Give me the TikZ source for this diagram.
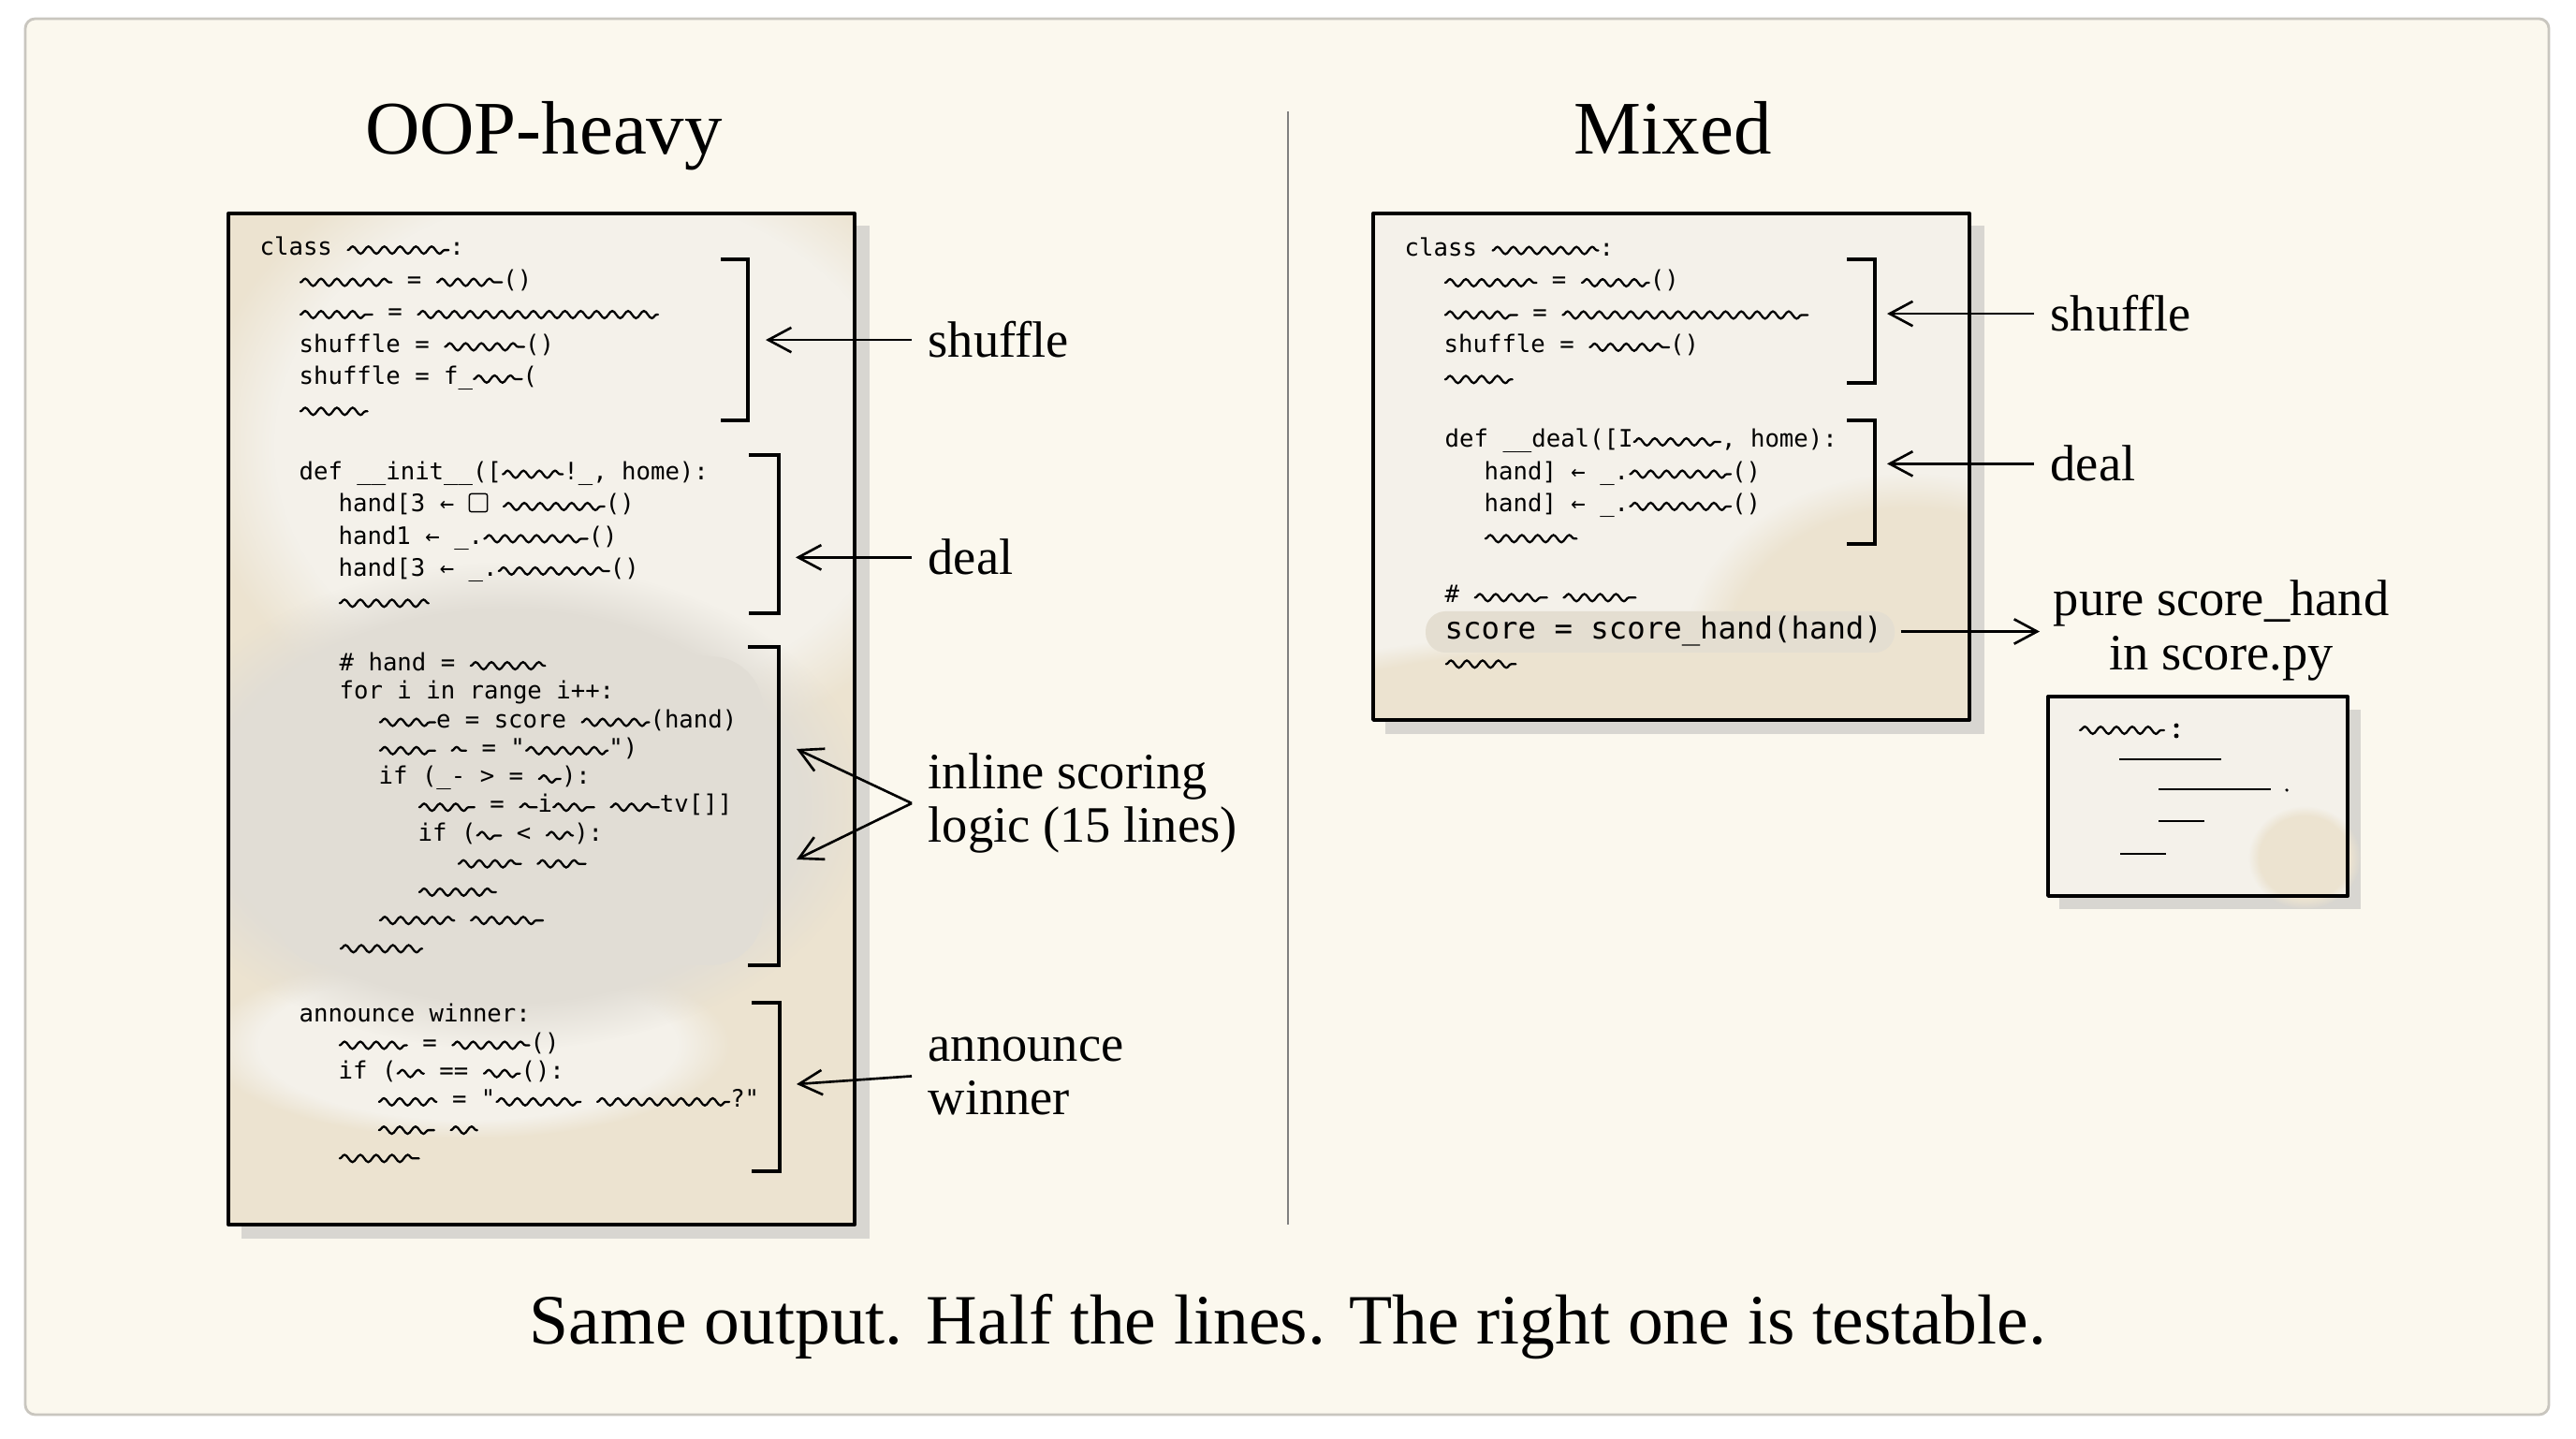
\documentclass[tikz,border=0pt]{standalone}
\usepackage{fontspec}
\setmainfont{Liberation Serif}
\newfontfamily\codefont{DejaVu Sans Mono}
\usetikzlibrary{arrows.meta,decorations.pathmorphing,fadings}
\definecolor{paper}{HTML}{FBF8EE}
\definecolor{paperedge}{HTML}{C9C6BF}
\definecolor{shadowgray}{HTML}{D8D6D1}
\definecolor{sheetbeige}{HTML}{ECE3D0}
\definecolor{sheetlight}{HTML}{F4F1EA}
\definecolor{washgray}{HTML}{E1DDD5}
\definecolor{hilite}{HTML}{E4DED1}
\tikzset{
  sheet/.style={draw=black, line width=1.1pt, line join=round},
  codeblock/.style={anchor=base west, inner sep=0pt, align=left, font=\codefont\fontsize{7.3}{9.8}\selectfont},
  tightblock/.style={codeblock, font=\codefont\fontsize{7.3}{8.6}\selectfont},
  squig/.style={line width=0.65pt, line cap=round, decorate, decoration={snake, amplitude=1.1pt, segment length=4.8pt}},
  bracket/.style={line width=0.9pt, line join=miter},
  callout/.style={line width=0.75pt, -{Straight Barb[length=7pt,width=7.5pt]}},
  lbl/.style={anchor=base west, inner sep=0pt, align=left, font=\fontsize{15.5}{16.5}\selectfont},
  divider/.style={draw=black!50, line width=0.65pt},
  blob/.style={path fading=circle with fuzzy edge 20 percent}
}
% squiggle placeholder, length in em
\newcommand\sq[1]{\tikz[baseline=0pt]\draw[squig](0,0.22em)--(#1em,0.22em);}
\newcommand\tb{\hspace*{0.42cm}}
\newcommand\boxglyph{\tikz[baseline=0pt]\draw[line width=0.4pt,rounded corners=0.6pt](0,0)rectangle(0.75em,0.75em);}

\begin{document}
\begin{tikzpicture}
    \useasboundingbox (0,0) rectangle (27.52,15.36);
    \fill[white] (0,0) rectangle (27.52,15.36);
    % paper
    \path[draw=paperedge, line width=0.8pt, fill=paper, rounded corners=3pt] (0.27,0.25) rectangle (27.23,15.16);
    % shadows
    \fill[shadowgray] (2.58,2.13) rectangle (9.29,12.95);
    \fill[shadowgray] (14.80,7.52) rectangle (21.20,12.95);
    \fill[shadowgray] (22.00,5.65) rectangle (25.22,7.78);
    % left sheet washes
    \begin{scope}
        \clip (2.44,2.28) rectangle (9.13,13.08);
        \fill[sheetbeige] (2.44,2.28) rectangle (9.13,13.08);
        \fill[sheetlight, blob] (6.3,10.6) ellipse (4.2 and 3.4);
        \fill[sheetlight, blob] (5.0,4.2) ellipse (2.8 and 1.0);
        \fill[washgray, blob] (5.4,6.75) ellipse (3.9 and 2.6);
        \fill[washgray, rounded corners=16pt] (2.95,5.05) rectangle (8.15,8.35);
    \end{scope}
    \draw[sheet] (2.44,2.28) rectangle (9.13,13.08);
    % right sheet washes
    \begin{scope}
        \clip (14.67,7.67) rectangle (21.04,13.08);
        \fill[sheetlight] (14.67,7.67) rectangle (21.04,13.08);
        \fill[sheetbeige, blob] (20.4,8.4) ellipse (2.4 and 1.9);
        \fill[sheetbeige, blob] (17.2,7.7) ellipse (4.2 and 0.9);
    \end{scope}
    \draw[sheet] (14.67,7.67) rectangle (21.04,13.08);
    % score.py sheet
    \fill[sheetlight] (21.88,5.79) rectangle (25.08,7.92);
    \fill[sheetbeige, blob] (24.62,6.2) ellipse (0.6 and 0.55);
    \draw[sheet] (21.88,5.79) rectangle (25.08,7.92);
    % titles
    \node[anchor=base, font=\fontsize{23}{27}\selectfont] (ttlL) at (5.81,13.71) {OOP-heavy};
    \node[anchor=base, font=\fontsize{23}{27}\selectfont] (ttlR) at (17.87,13.71) {Mixed};
    \draw[divider] (13.76,14.17) -- (13.76,2.28);
    % left code (base = last line)
    \node[codeblock] (oopA) at (2.77,10.91) {class \sq{4.2}:\\
        \tb\sq{3.8} = \sq{2.7}()\\
        \tb\sq{3} = \sq{10}\\
        \tb shuffle = \sq{3.3}()\\
        \tb shuffle = f\_\sq{2}(\\
        \tb\sq{2.8}};
    \node[codeblock] (oopB) at (3.19,8.86) {def \_\_init\_\_([\sq{2.5}!\_, home):\\
        \tb hand[3 ← \boxglyph\ \sq{4.2}()\\
        \tb hand1 ← \_.\sq{4.3}()\\
        \tb hand[3 ← \_.\sq{4.6}()\\
        \tb\sq{3.7}};
    \node[tightblock] (oopC) at (3.62,5.17) {\# hand = \sq{3.1}\\
        for i in range i++:\\
        \tb\sq{2.3}e = score \sq{2.8}(hand)\\
        \tb\sq{2.3} \sq{0.6} = "\sq{3.4}")\\
        \tb if (\_- > = \sq{0.9}):\\
        \tb\tb\sq{2.3} = \sq{0.7}i\sq{1.7} \sq{2}tv[]]\\
        \tb\tb if (\sq{1} < \sq{1.1}):\\
        \tb\tb\tb\sq{2.6} \sq{2}\\
        \tb\tb\sq{3.2}\\
        \tb\sq{3.1} \sq{3}\\
        \sq{3.4}};
    \node[tightblock] (oopD) at (3.19,2.93) {announce winner:\\
        \tb\sq{2.8} = \sq{3.2}()\\
        \tb if (\sq{1.1} == \sq{1.5}():\\
        \tb\tb\sq{2.4} = "\sq{3.5} \sq{5.5}?"\\
        \tb\tb\sq{2.3} \sq{1.1}\\
        \tb\sq{3.3}};
    % right code
    \node[codeblock] (mixA) at (15.00,11.25) {class \sq{4.4}:\\
        \tb\sq{3.8} = \sq{2.8}()\\
        \tb\sq{3} = \sq{10.2}\\
        \tb shuffle = \sq{3.3}()\\
        \tb\sq{2.8}};
    \node[codeblock] (mixB) at (15.43,9.55) {def \_\_deal([I\sq{3.6}, home):\\
        \tb hand] ← \_.\sq{4.2}()\\
        \tb hand] ← \_.\sq{4.2}()\\
        \tb\sq{3.8}};
    \node[codeblock] (mixC) at (15.43,8.92) {\# \sq{3} \sq{3}};
    \fill[hilite, rounded corners=6pt] (15.23,8.39) rectangle (20.24,8.83);
    \node[codeblock, font=\codefont\fontsize{9.2}{11}\selectfont] (scoreLn) at (15.43,8.53) {score = score\_hand(hand)};
    \node[codeblock] (mixD) at (15.43,8.21) {\sq{2.9}};
    % score.py lines
    \draw[squig] (22.22,7.56) -- (23.12,7.56);
    \fill (23.25,7.61) circle (0.025) (23.25,7.50) circle (0.025);
    \draw[line width=0.7pt] (22.64,7.25) -- (23.73,7.25);
    \draw[line width=0.7pt] (23.06,6.93) -- (24.26,6.93);
    \fill (24.43,6.92) circle (0.018);
    \draw[line width=0.7pt] (23.06,6.59) -- (23.55,6.59);
    \draw[line width=0.7pt] (22.65,6.24) -- (23.14,6.24);
    % brackets
    \draw[bracket] (7.70,12.59) -- (7.99,12.59) -- (7.99,10.87) -- (7.70,10.87);
    \draw[bracket] (8.00,10.50) -- (8.32,10.50) -- (8.32,8.81) -- (8.00,8.81);
    \draw[bracket] (7.99,8.45) -- (8.32,8.45) -- (8.32,5.05) -- (7.99,5.05);
    \draw[bracket] (8.03,4.65) -- (8.33,4.65) -- (8.33,2.85) -- (8.03,2.85);
    \draw[bracket] (19.73,12.59) -- (20.03,12.59) -- (20.03,11.27) -- (19.73,11.27);
    \draw[bracket] (19.73,10.87) -- (20.03,10.87) -- (20.03,9.55) -- (19.73,9.55);
    % labels (base = last line)
    \node[lbl] (shufL) at (9.91,11.54) {shuffle};
    \node[lbl] (dealL) at (9.91,9.22) {deal};
    \node[lbl] (inlineL) at (9.91,6.36) {inline scoring\\logic (15 lines)};
    \node[lbl] (annL) at (9.91,3.45) {announce\\winner};
    \node[lbl] (shufR) at (21.90,11.82) {shuffle};
    \node[lbl] (dealR) at (21.90,10.22) {deal};
    \node[lbl, anchor=base, align=center] (pureR) at (23.73,8.20) {pure score\_hand\\in score.py};
    % arrow tips
    \coordinate (tipA) at (8.18,11.71);
    \coordinate (tipB) at (8.50,9.36);
    \coordinate (tipC1) at (8.51,7.36);
    \coordinate (tipC2) at (8.51,6.18);
    \coordinate (tipD) at (8.51,3.78);
    \coordinate (tipE) at (20.16,11.98);
    \coordinate (tipF) at (20.16,10.37);
    % arrows
    \draw[callout] ([xshift=-0.17cm]shufL.west) -- (shufL.west -| tipA);
    \draw[callout] ([xshift=-0.17cm]dealL.west) -- (dealL.west -| tipB);
    \draw[callout] ([xshift=-0.17cm]inlineL.west) -- (tipC1);
    \draw[callout] ([xshift=-0.17cm]inlineL.west) -- (tipC2);
    \draw[callout] ([xshift=-0.17cm]annL.west) -- (tipD);
    \draw[callout] ([xshift=-0.17cm]shufR.west) -- (shufR.west -| tipE);
    \draw[callout] ([xshift=-0.17cm]dealR.west) -- (dealR.west -| tipF);
    \draw[callout] ([xshift=0.19cm]scoreLn.east) -- ([xshift=-0.14cm]scoreLn.east -| pureR.west);
    % caption
    \node[anchor=base, font=\fontsize{21.5}{25}\selectfont] (caption) at (13.76,1.01) {Same output. Half the lines. The right one is testable.};
\end{tikzpicture}
\end{document}
